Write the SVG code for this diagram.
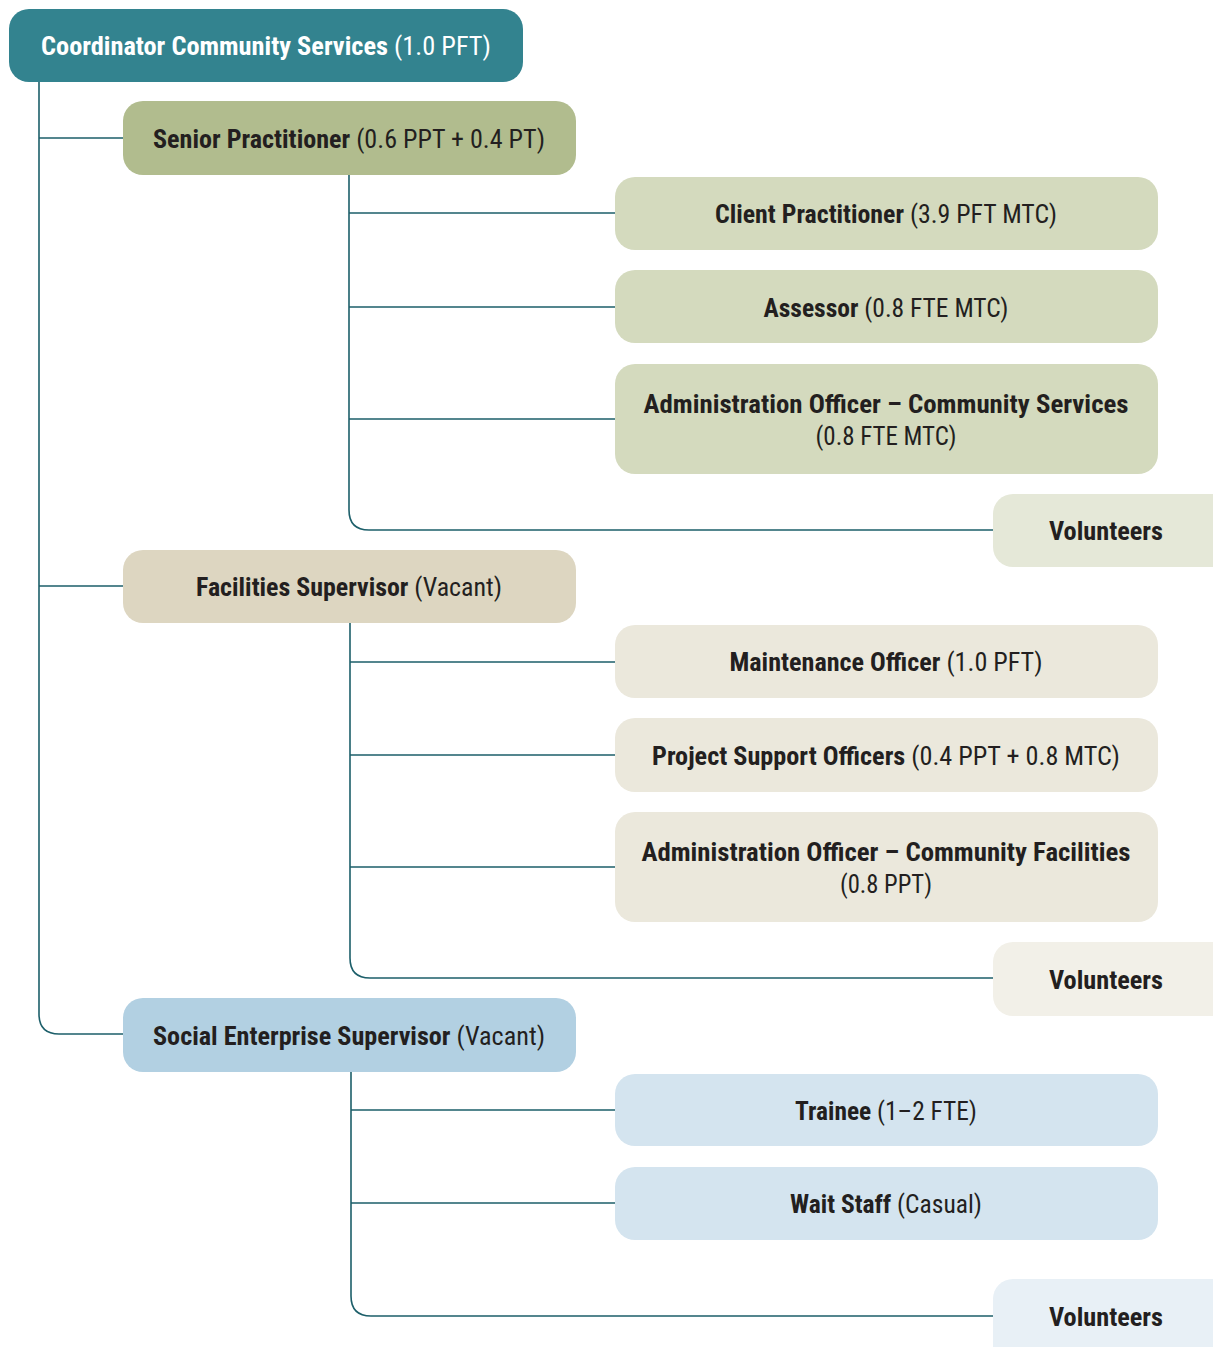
<svg xmlns="http://www.w3.org/2000/svg" width="1213" height="1347" viewBox="0 0 1213 1347">
<style>
text{font-family:"Liberation Sans Narrow","Roboto Condensed","DejaVu Sans Condensed","Liberation Sans",sans-serif;font-size:25px;fill:#231f20;text-anchor:middle}
.b{font-weight:bold}
.w{fill:#ffffff}
.c{fill:none;stroke:#1d5f6a;stroke-width:1.6}
</style>
<rect width="1213" height="1347" fill="#ffffff"/>
<g id="connectors">
<path class="c" d="M39,82 V1014 Q39,1034 59,1034 H123"/>
<path class="c" d="M39,138 H123 M39,586 H123"/>
<path class="c" d="M349,175 V510 Q349,530 369,530 H993 M349,213 H615 M349,307 H615 M349,419 H615"/>
<path class="c" d="M350,623 V958 Q350,978 370,978 H993 M350,662 H615 M350,755 H615 M350,867 H615"/>
<path class="c" d="M351,1072 V1296 Q351,1316 371,1316 H993 M351,1110 H615 M351,1203 H615"/>
</g>
<g id="coordinator">
<rect x="9" y="9" width="514" height="73" rx="20" fill="#33838f"/>
<text x="266" y="55" class="w" textLength="450" lengthAdjust="spacingAndGlyphs"><tspan class="b w">Coordinator Community Services</tspan> (1.0 PFT)</text>
</g>
<g id="senior">
<rect x="123" y="101" width="453" height="74" rx="20" fill="#b1bc8e"/>
<text x="349" y="148" textLength="392" lengthAdjust="spacingAndGlyphs"><tspan class="b">Senior Practitioner</tspan> (0.6 PPT + 0.4 PT)</text>
</g>
<g id="client">
<rect x="615" y="177" width="543" height="73" rx="20" fill="#d4dabe"/>
<text x="886" y="223" textLength="342" lengthAdjust="spacingAndGlyphs"><tspan class="b">Client Practitioner</tspan> (3.9 PFT MTC)</text>
</g>
<g id="assessor">
<rect x="615" y="270" width="543" height="73" rx="20" fill="#d4dabe"/>
<text x="886" y="317" textLength="245" lengthAdjust="spacingAndGlyphs"><tspan class="b">Assessor</tspan> (0.8 FTE MTC)</text>
</g>
<g id="admin-cs">
<rect x="615" y="364" width="543" height="110" rx="20" fill="#d4dabe"/>
<text x="886" y="413" class="b" textLength="485" lengthAdjust="spacingAndGlyphs">Administration Officer – Community Services</text>
<text x="886" y="445" textLength="141" lengthAdjust="spacingAndGlyphs">(0.8 FTE MTC)</text>
</g>
<g id="volunteers-1">
<rect x="993" y="494" width="240" height="73" rx="20" fill="#e5e8d8"/>
<text x="1106" y="540" class="b" textLength="114" lengthAdjust="spacingAndGlyphs">Volunteers</text>
</g>
<g id="facilities">
<rect x="123" y="550" width="453" height="73" rx="20" fill="#ddd6c1"/>
<text x="349" y="596" textLength="306" lengthAdjust="spacingAndGlyphs"><tspan class="b">Facilities Supervisor</tspan> (Vacant)</text>
</g>
<g id="maintenance">
<rect x="615" y="625" width="543" height="73" rx="20" fill="#ebe8dc"/>
<text x="886" y="671" textLength="313" lengthAdjust="spacingAndGlyphs"><tspan class="b">Maintenance Officer</tspan> (1.0 PFT)</text>
</g>
<g id="project-support">
<rect x="615" y="718" width="543" height="74" rx="20" fill="#ebe8dc"/>
<text x="886" y="765" textLength="468" lengthAdjust="spacingAndGlyphs"><tspan class="b">Project Support Officers</tspan> (0.4 PPT + 0.8 MTC)</text>
</g>
<g id="admin-cf">
<rect x="615" y="812" width="543" height="110" rx="20" fill="#ebe8dc"/>
<text x="886" y="861" class="b" textLength="489" lengthAdjust="spacingAndGlyphs">Administration Officer – Community Facilities</text>
<text x="886" y="893" textLength="92" lengthAdjust="spacingAndGlyphs">(0.8 PPT)</text>
</g>
<g id="volunteers-2">
<rect x="993" y="942" width="240" height="74" rx="20" fill="#f2f0e8"/>
<text x="1106" y="989" class="b" textLength="114" lengthAdjust="spacingAndGlyphs">Volunteers</text>
</g>
<g id="social">
<rect x="123" y="998" width="453" height="74" rx="20" fill="#b2d0e2"/>
<text x="349" y="1045" textLength="392" lengthAdjust="spacingAndGlyphs"><tspan class="b">Social Enterprise Supervisor</tspan> (Vacant)</text>
</g>
<g id="trainee">
<rect x="615" y="1074" width="543" height="72" rx="20" fill="#d4e4ef"/>
<text x="886" y="1120" textLength="182" lengthAdjust="spacingAndGlyphs"><tspan class="b">Trainee</tspan> (1–2 FTE)</text>
</g>
<g id="wait-staff">
<rect x="615" y="1167" width="543" height="73" rx="20" fill="#d4e4ef"/>
<text x="886" y="1213" textLength="192" lengthAdjust="spacingAndGlyphs"><tspan class="b">Wait Staff</tspan> (Casual)</text>
</g>
<g id="volunteers-3">
<rect x="993" y="1279" width="240" height="90" rx="20" fill="#e8f0f6"/>
<text x="1106" y="1326" class="b" textLength="114" lengthAdjust="spacingAndGlyphs">Volunteers</text>
</g>
</svg>
